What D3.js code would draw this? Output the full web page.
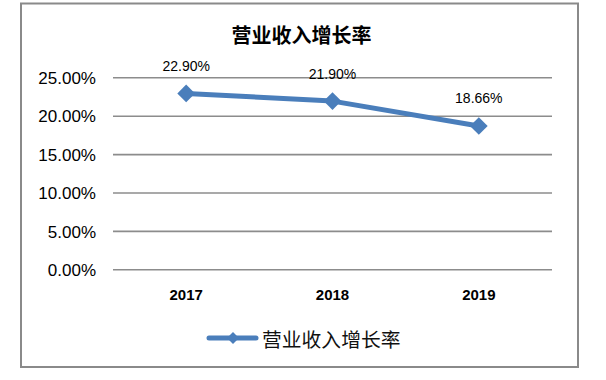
<!DOCTYPE html>
<html>
<head>
<meta charset="utf-8">
<script src="https://cdn.jsdelivr.net/npm/d3@7"></script>
<style>
  html, body { margin: 0; padding: 0; background: #fff; }
  svg { display: block; }
</style>
</head>
<body>
<svg id="chart" width="606" height="380"></svg>
<script>
const title = "营业收入增长率";
const seriesName = "营业收入增长率";
const categories = ["2017", "2018", "2019"];
const values = [22.90, 21.90, 18.66];
const yTicks = [0, 5, 10, 15, 20, 25];

const svg = d3.select("#chart");
const W = 606, H = 380;
const plot = { left: 113, right: 552, top: 77.3, bottom: 269.3 };
const lineColor = "#4a7ebb";
const gridColor = "#8c8c8c";

svg.append("rect").attr("width", W).attr("height", H).attr("fill", "#fff");
svg.append("rect")
  .attr("x", 21).attr("y", 3.5).attr("width", 557).attr("height", 363.5)
  .attr("fill", "#fff").attr("stroke", "#8a8a8a").attr("stroke-width", 2);

const x = d3.scaleBand().domain(categories).range([plot.left, plot.right]);
const y = d3.scaleLinear().domain([0, 25]).range([plot.bottom, plot.top]);

// Y axis with gridlines
const yAxis = d3.axisLeft(y)
  .tickValues(yTicks)
  .tickSize(-(plot.right - plot.left))
  .tickPadding(17)
  .tickFormat(d => d.toFixed(2) + "%");
const gy = svg.append("g").attr("transform", `translate(${plot.left},0)`).call(yAxis);
gy.select(".domain").remove();
gy.selectAll(".tick line").attr("stroke", gridColor).attr("stroke-width", 1.6);
gy.selectAll(".tick text")
  .attr("fill", "#000")
  .style("font-family", "'Liberation Sans', Arial, sans-serif")
  .style("font-size", "17px")
  .attr("dy", "0.36em");

// X axis labels
const xAxis = d3.axisBottom(x).tickSize(0).tickPadding(0);
const gx = svg.append("g").attr("transform", `translate(0,${plot.bottom})`).call(xAxis);
gx.select(".domain").remove();
gx.selectAll(".tick text")
  .attr("fill", "#000")
  .attr("y", 31).attr("dy", 0)
  .style("font-family", "'Liberation Sans', Arial, sans-serif")
  .style("font-size", "15px")
  .style("font-weight", "bold");

// line
const pts = categories.map((c, i) => ({ c, v: values[i] }));
const cx = d => x(d.c) + x.bandwidth() / 2;
const line = d3.line().x(cx).y(d => y(d.v));
svg.append("path").datum(pts)
  .attr("d", line)
  .attr("fill", "none")
  .attr("stroke", lineColor)
  .attr("stroke-width", 5)
  .attr("stroke-linejoin", "round")
  .attr("stroke-linecap", "round");

const diamond = d3.symbol().type(d3.symbolDiamond2).size(200);
svg.selectAll(".marker").data(pts).enter().append("path")
  .attr("class", "marker")
  .attr("transform", d => `translate(${cx(d)},${y(d.v)})`)
  .attr("d", diamond)
  .attr("fill", lineColor);

// data labels
svg.selectAll(".dlabel").data(pts).enter().append("text")
  .attr("class", "dlabel")
  .attr("x", cx)
  .attr("y", d => y(d.v) - 22.5)
  .attr("text-anchor", "middle")
  .attr("fill", "#000")
  .style("font-family", "'Liberation Sans', Arial, sans-serif")
  .style("font-size", "14px")
  .text(d => d.v.toFixed(2) + "%");

// title
svg.append("text")
  .attr("x", 301.5).attr("y", 42.5)
  .attr("text-anchor", "middle")
  .attr("fill", "#000")
  .style("font-family", "'Noto Sans CJK SC', sans-serif")
  .style("font-size", "20px")
  .style("font-weight", "bold")
  .text(title);

// legend
const lg = svg.append("g");
lg.append("line")
  .attr("x1", 209).attr("x2", 256).attr("y1", 338).attr("y2", 338)
  .attr("stroke", lineColor).attr("stroke-width", 5).attr("stroke-linecap", "round");
lg.append("path")
  .attr("transform", "translate(233,338)")
  .attr("d", d3.symbol().type(d3.symbolDiamond2).size(90))
  .attr("fill", lineColor);
lg.append("text")
  .attr("x", 262).attr("y", 347)
  .attr("fill", "#111")
  .style("font-family", "'Noto Sans CJK SC', sans-serif")
  .style("font-size", "19.8px")
  .text(seriesName);
</script>
</body>
</html>
